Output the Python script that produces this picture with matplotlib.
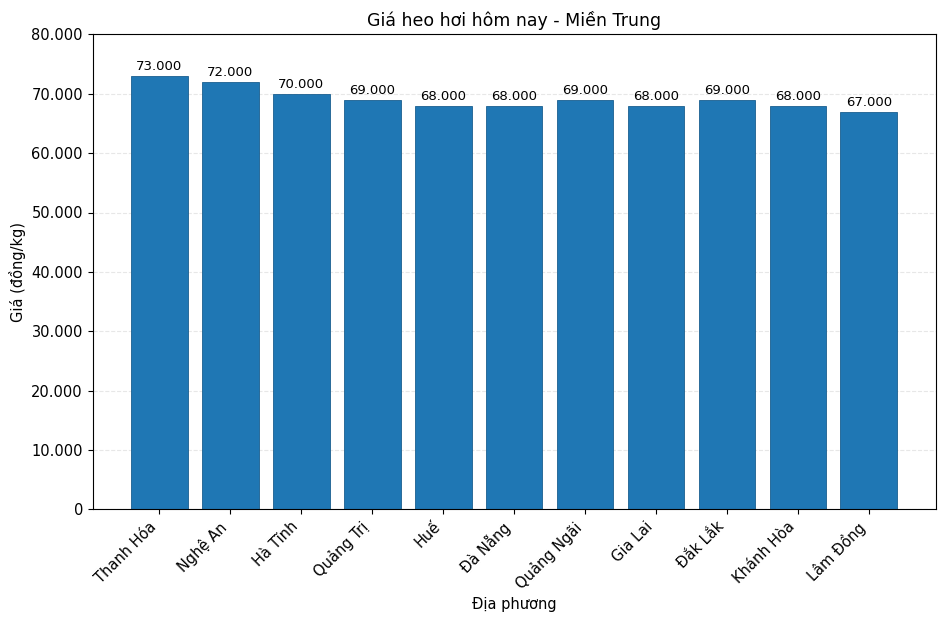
import matplotlib
matplotlib.use("Agg")
import matplotlib.pyplot as plt
from matplotlib.ticker import FuncFormatter

provinces = ["Thanh Hóa", "Nghệ An", "Hà Tĩnh", "Quảng Trị", "Huế", "Đà Nẵng",
             "Quảng Ngãi", "Gia Lai", "Đắk Lắk", "Khánh Hòa", "Lâm Đồng"]
prices = [73000, 72000, 70000, 69000, 68000, 68000, 69000, 68000, 69000, 68000, 67000]

def fmt(v):
    return f"{int(v):,}".replace(",", ".")

fig, ax = plt.subplots(figsize=(9.45, 6.25), dpi=100)
fig.subplots_adjust(left=0.098, right=0.99, top=0.945, bottom=0.185)
bars = ax.bar(provinces, prices, color="#1f77b4", edgecolor="#1a5f8f", linewidth=0.6)
for b, v in zip(bars, prices):
    ax.text(b.get_x() + b.get_width() / 2, v + 500, fmt(v), ha="center", va="bottom", fontsize=9.5)
ax.set_ylim(0, 80000)
ax.yaxis.set_major_formatter(FuncFormatter(lambda v, p: fmt(v)))
ax.grid(axis="y", linestyle="--", alpha=0.3)
ax.set_axisbelow(True)
ax.set_title("Giá heo hơi hôm nay - Miền Trung", fontsize=12.5)
ax.set_xlabel("Địa phương", fontsize=10.5)
ax.set_ylabel("Giá (đồng/kg)", fontsize=10.5)
plt.setp(ax.get_xticklabels(), rotation=45, ha="right", fontsize=10.5)
plt.setp(ax.get_yticklabels(), fontsize=10.5)
fig.savefig("out.png", dpi=100)
